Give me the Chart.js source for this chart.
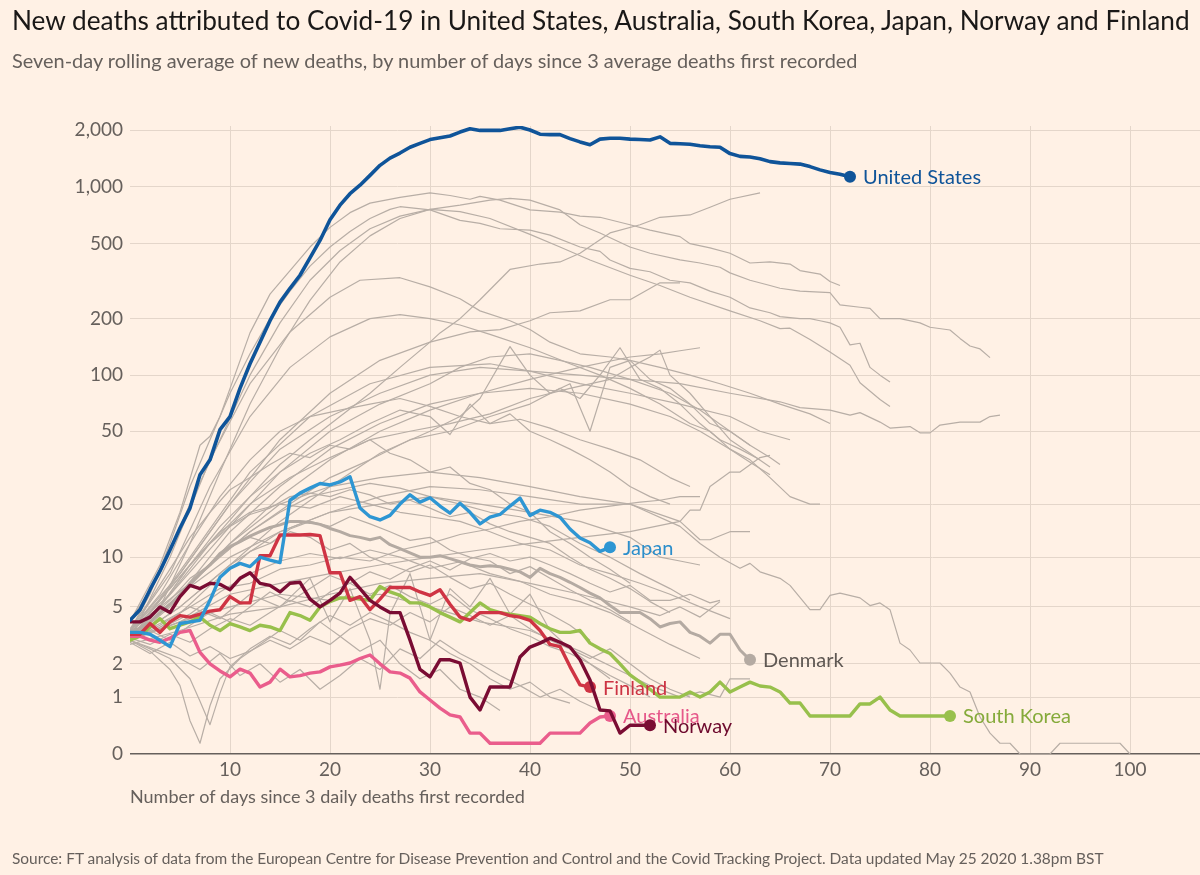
<!DOCTYPE html>
<html><head><meta charset="utf-8">
<script src="https://cdn.jsdelivr.net/npm/chart.js@4.4.0/dist/chart.umd.min.js"></script>
<style>
html,body{margin:0;padding:0;background:#fff1e5;}
#wrap{position:relative;width:1200px;height:875px;overflow:hidden;background:#fff1e5;}
canvas{position:absolute;left:0;top:0;}
.txt{position:absolute;left:12px;white-space:nowrap;font-family:Lato,"Open Sans",sans-serif;}
#title{top:4px;font-size:24px;color:#1a1817;line-height:32px;}
#subtitle{top:47px;font-size:18px;color:#66605c;line-height:26px;}
#source{top:847px;font-size:15px;color:#66605c;line-height:22px;}
</style></head>
<body><div id="wrap">
<canvas id="c" width="1200" height="875"></canvas>
<div class="txt" id="title" data-w="1178">New deaths attributed to Covid-19 in United States, Australia, South Korea, Japan, Norway and Finland</div>
<div class="txt" id="subtitle" data-w="846">Seven-day rolling average of new deaths, by number of days since 3 average deaths first recorded</div>
<div class="txt" id="source" data-w="1092">Source: FT analysis of data from the European Centre for Disease Prevention and Control and the Covid Tracking Project. Data updated May 25 2020 1.38pm BST</div>
</div>
<script>
// ---------- DATA ----------
const xTicks = [10,20,30,40,50,60,70,80,90,100];
const yTickValues = [0,1,2,5,10,20,50,100,200,500,1000,2000];
const yTickLabels = ['0','1','2','5','10','20','50','100','200','500','1,000','2,000'];

// highlighted series: value per day, starting at day 0
const usDeaths = [4.1,4.8,6.4,8.3,11,14.7,19,29,35,51,60,85,115,150,195,245,290,340,420,520,670,800,920,1020,1150,1300,1420,1510,1620,1700,1780,1820,1860,1950,2030,1990,1990,1990,2030,2070,2000,1900,1890,1890,1800,1730,1670,1790,1810,1810,1790,1780,1770,1840,1700,1690,1680,1650,1630,1620,1500,1450,1440,1410,1360,1340,1330,1320,1280,1230,1190,1165,1130];
const japanDeaths = [3.4,3.4,3.3,3.0,2.7,3.9,4.0,4.1,5.5,7.6,8.6,9.2,8.8,10.0,9.6,9.3,21,23,24.5,26,25.5,26.5,28.3,19,17,16.3,17.3,20,22.5,20.5,21.7,19.5,17.8,20.2,18,15.5,16.9,17.5,19.5,21.6,17.3,18.5,18,16.9,14.5,12.9,12.1,10.8,11.4];
const norwayDeaths = [4.0,4.0,4.3,5.0,4.6,5.8,6.8,6.5,7.0,6.9,6.4,7.5,8.1,7.0,6.8,6.2,7.0,7.1,5.6,5.0,5.5,6.1,7.6,6.5,5.5,5.0,4.6,4.6,3.0,1.8,1.56,2.15,2.15,2.03,1.0,0.71,1.26,1.26,1.26,2.26,2.68,2.86,3.1,2.9,2.68,2.15,1.46,0.71,0.69,0.29,0.42,0.42,0.42];
const finlandDeaths = [3.3,3.3,3.9,3.4,4.0,4.4,4.3,4.5,4.7,4.8,5.8,5.3,5.3,10.2,10.2,13.4,13.4,13.4,13.5,13.3,8.1,8.1,5.5,5.8,4.8,5.6,6.6,6.6,6.6,6.2,5.9,6.4,5.2,4.3,4.1,4.6,4.6,4.6,4.4,4.3,4.1,3.5,2.8,2.7,1.9,1.32,1.26];
const australiaDeaths = [3.2,3.2,3.0,2.9,3.1,3.4,3.5,2.45,2.0,1.75,1.56,1.81,1.68,1.26,1.4,1.81,1.56,1.6,1.68,1.72,1.89,1.95,2.03,2.2,2.34,2.0,1.72,1.68,1.52,1.13,0.93,0.75,0.61,0.57,0.29,0.29,0.14,0.14,0.14,0.14,0.14,0.14,0.29,0.29,0.29,0.29,0.46,0.57,0.59];
const southKoreaDeaths = [3.0,3.2,3.7,4.2,3.6,3.8,4.0,4.3,3.8,3.5,3.9,3.7,3.5,3.8,3.7,3.5,4.6,4.4,4.1,5.0,5.4,5.7,5.7,5.6,5.5,6.7,6.2,5.9,5.3,5.3,5.0,4.6,4.3,4.0,4.6,5.3,4.8,4.6,4.5,4.4,4.3,3.9,3.6,3.4,3.4,3.5,2.86,2.6,2.4,2.0,1.62,1.4,1.2,1.0,1.0,1.0,1.13,1.0,1.13,1.4,1.13,1.26,1.4,1.29,1.26,1.13,0.86,0.86,0.59,0.59,0.59,0.59,0.59,0.84,0.84,1.0,0.71,0.59,0.59,0.59,0.59,0.59,0.59];
const denmarkDeaths = [3.5,3.6,4.0,4.6,5.2,6.0,7.0,8.0,9.0,10.5,11.5,12.3,13.2,14.0,14.8,15.3,16.0,16.0,15.8,15.4,14.6,14.0,13.3,13.0,12.6,13.0,11.8,11.2,10.6,10.0,10.0,10.2,9.8,9.4,9.0,8.8,8.9,8.8,8.5,8.2,7.6,8.6,8.0,7.6,7.1,6.6,6.1,5.7,5.1,4.6,4.6,4.6,4.2,3.7,3.9,4.0,3.4,3.2,2.86,3.3,3.3,2.55,2.15];

// other countries: [day, value] pairs
const other01 = [[0,4],[3,9],[5,18],[7,42],[8,47],[9,60],[12,168],[14,270],[16,360],[18,480],[20,610],[22,730],[24,820],[27,880],[30,930],[32,900],[34,860],[35,890],[37,850],[40,755],[43,735],[45,700],[47,690],[50,630],[52,590],[55,545],[56,500],[58,475],[60,445],[62,395],[64,400],[66,390],[67,360],[69,345],[70,315],[71,300]];
const other02 = [[0,3.5],[2,6],[4,12],[6,25],[8,45],[10,80],[12,130],[14,200],[16,280],[18,380],[20,480],[22,580],[24,680],[26,760],[27,785],[30,755],[33,665],[35,640],[37,600],[40,590],[42,555],[45,480],[47,455],[48,410],[50,370],[52,355],[54,320],[56,310],[58,280],[60,260],[62,228],[64,215],[65,205],[67,200],[68,200],[69,195],[70,190],[71,180],[72,145],[73,148],[74,110],[75,100],[76,92]];
const other03 = [[0,3],[3,5],[6,12],[9,30],[12,70],[15,140],[18,250],[21,400],[24,550],[27,680],[30,760],[33,800],[36,850],[38,870],[40,850],[43,755],[45,630],[47,570],[50,480],[52,445],[55,410],[57,395],[59,375],[60,350],[62,320],[64,300],[65,290],[67,280],[69,277],[70,275],[71,237],[73,230],[74,227],[75,200],[77,200],[79,190],[80,180],[82,174],[83,157],[84,143],[85,138],[86,124]];
const other04 = [[0,3.5],[3,5],[6,9],[9,14],[12,22],[15,33],[18,45],[21,60],[24,80],[27,110],[30,150],[31,168],[33,200],[35,252],[38,365],[41,390],[43,400],[45,445],[48,570],[51,630],[53,690],[56,710],[58,780],[60,860],[63,930]];
const other05 = [[0,4],[3,8],[6,20],[9,45],[12,100],[15,190],[18,320],[21,460],[24,600],[27,700],[30,760],[33,740],[36,680],[40,560],[43,480],[46,410],[50,340],[53,300],[56,260],[60,220],[63,195],[65,177],[66,178],[68,155],[70,133],[72,113],[73,91],[75,74],[76,68]];
const other06 = [[0,3],[4,10],[8,35],[12,90],[16,170],[20,260],[23,320],[27,330],[30,295],[33,255],[35,220],[38,195],[40,175],[42,150],[45,130],[48,125],[50,120],[53,110],[56,100],[59,90],[62,80],[65,70],[68,62],[70,55]];
const other07 = [[0,3.5],[5,8],[10,20],[15,45],[20,80],[25,120],[30,150],[34,170],[37,175],[40,195],[42,215],[45,220],[48,252],[50,252],[53,310],[55,310]];
const other08 = [[0,3],[5,8],[10,20],[15,40],[20,60],[25,80],[30,100],[35,110],[40,105],[45,100],[50,95],[55,90],[60,80],[65,72],[67,67],[70,65],[72,61],[73,63],[75,56],[76,52],[78,53],[79,49],[80,49],[81,54],[83,56],[85,56],[86,60],[87,61]];
const other09 = [[0,3],[6,10],[12,30],[18,60],[24,90],[30,110],[36,115],[40,105],[45,90],[50,80],[55,70],[60,60],[63,50],[66,45]];
const other10 = [[0,3.5],[4,8],[8,25],[12,60],[16,110],[20,160],[24,200],[27,210],[30,200],[33,185],[36,165],[40,140],[44,115],[47,100],[50,85],[53,70],[56,55],[58,50],[60,40],[62,35],[64,28],[66,22],[68,20],[69,20]];
const other11 = [[0,3],[5,7],[10,15],[15,30],[20,50],[25,70],[30,90],[33,110],[36,125],[40,130],[43,120],[46,110],[50,95],[54,80],[57,65],[60,50],[62,42],[64,36],[65,33]];
const other12 = [[0,3],[5,4],[10,6],[15,7],[20,8],[25,9],[30,10],[35,11],[40,12],[45,13],[50,14],[55,16],[56,18.5],[57,18.5],[58,25],[60,30],[61,30],[63,36],[64,37]];
const other13 = [[0,3],[5,6],[10,12],[15,20],[20,25],[25,28],[30,30],[35,28],[40,25],[45,22],[50,20],[55,16],[57,12.6],[58,12.6],[60,14],[62,14]];
const other14 = [[0,3],[5,5],[10,9],[15,14],[20,18],[25,20],[30,22],[35,20],[40,18],[45,16],[50,13],[53,10],[55,9.5],[57,9]];
const other15 = [[0,3],[5,6],[10,10],[15,14],[20,18],[25,22],[30,25],[35,24],[40,22],[45,20],[50,20],[55,15],[57,12],[59,10],[61,8.6],[62,9.2],[63,8.2],[65,7.5],[66,6.8],[68,4.8],[69,4.8],[70,5.9],[71,6.1],[73,5.7],[74,5.1],[75,5.3],[76,4.8],[77,2.86],[78,2.55],[79,2.03],[81,2.03],[82,1.68],[83,1.26],[84,1.13],[85,0.57],[86,0.29],[87,0.14],[88,0.14],[89,0],[92,0],[93,0.14],[99,0.14],[100,0]];
const other16 = [[0,3],[5,6],[10,14],[15,25],[20,40],[25,55],[30,70],[35,80],[40,85],[45,80],[50,70],[54,60],[57,50],[60,40],[62,34],[64,29]];
const other17 = [[0,3],[5,4],[10,5],[15,6],[20,5.5],[25,6],[30,5],[35,4],[40,3.5],[45,2.5],[50,1.6],[52,1.3],[55,1.0],[57,1.13],[59,1.0],[60,1.5],[62,1.5]];
const other18 = [[0,2.8],[5,3.5],[10,4.5],[15,5],[20,6],[25,7],[30,7.5],[35,8],[40,7],[45,6],[50,5],[53,4.4],[55,5.0],[57,4.3],[59,5.4]];
const other19 = [[0,3],[2,2.5],[4,1.8],[5,1.3],[6,0.5],[7,0.14],[8,0.8],[9,1.5],[11,2.2],[13,2.8],[15,3.5],[17,3.0],[19,4.0],[21,3.2],[23,2.5],[25,3.0],[27,2.0],[29,1.5],[31,1.8],[33,1.2],[35,1.0],[37,0.7]];
const other20 = [[0,3],[2,2.6],[4,2.2],[6,1.5],[7,0.9],[8,0.43],[9,1.1],[10,1.9],[12,2.6],[14,3.2],[16,2.8],[18,3.6],[20,4.4],[22,3.8],[24,4.6],[26,4.0],[28,3.4],[30,3.0],[32,2.4],[34,2.0],[36,1.5],[38,1.2],[40,1.4],[42,1.0],[44,0.86]];
const other21 = [[0,3.2],[3,3.6],[6,4.5],[9,6.2],[12,8.0],[15,9.5],[18,10.5],[21,9.8],[24,11.0],[27,10.0],[30,8.6],[33,9.4],[36,8.0],[39,7.2],[42,6.0],[45,5.4],[48,4.6],[51,3.6],[54,2.8],[57,2.2]];
const other22 = [[0,3.0],[2,3.4],[4,4.0],[6,5.2],[8,6.8],[10,8.5],[12,10.8],[14,12.0],[16,14.5],[18,16.0],[20,15.0],[22,17.0],[24,15.5],[26,14.0],[28,12.5],[30,13.0],[32,11.0],[34,10.0],[36,9.5],[38,8.0],[40,8.8],[42,7.5],[44,6.4],[46,5.5],[48,4.8],[50,4.0]];
const other23 = [[0,3.1],[2,2.8],[4,3.3],[6,2.9],[8,3.6],[10,4.2],[12,3.8],[14,4.6],[16,5.5],[18,5.0],[20,6.2],[22,7.0],[24,6.0],[26,6.8],[28,5.8],[30,5.2],[32,6.0],[34,4.8],[36,4.2],[38,3.6],[40,3.2],[42,2.7],[44,2.4],[46,2.0],[48,1.6],[50,1.3],[52,1.0]];
const other24 = [[0,3],[3,2.5],[5,2.2],[7,1.8],[9,2.4],[11,1.6],[13,2.0],[15,1.4],[17,1.8],[19,1.2],[21,1.6],[23,2.2],[25,1.8],[27,2.6],[29,2.2],[31,3.0],[33,2.4],[35,2.0],[37,1.6],[39,1.3],[41,1.0],[43,1.2],[45,0.9],[47,0.7]];
const other25 = [[0,3.3],[2,4.2],[4,5.5],[6,7.5],[8,9.0],[10,11.5],[12,13.0],[14,12.0],[16,14.0],[18,13.0],[20,11.0],[22,12.0],[24,10.0],[26,9.0],[28,8.2],[30,9.0],[32,7.6],[34,6.5],[36,7.0],[38,6.0],[40,5.2],[42,4.5],[44,3.8],[46,3.0]];
const other26 = [[0,3],[3,3.8],[6,5.0],[9,4.2],[12,6.0],[15,5.0],[18,7.5],[20,4.0],[22,6.5],[24,3.0],[25,1.2],[26,4.5],[28,8.0],[30,3.0],[32,6.5],[34,5.0],[36,7.5],[38,4.5],[40,6.0],[42,3.5],[44,2.6],[46,2.0],[48,1.5]];
const other27 = [[0,3.4],[3,5.0],[6,7.0],[9,10.0],[12,14.0],[15,18.0],[18,22.0],[21,24.0],[24,26.0],[27,24.5],[30,22.0],[33,20.0],[36,18.0],[39,17.0],[42,15.0],[45,12.0],[48,10.0],[51,8.0],[54,6.5],[56,5.5]];
const other28 = [[0,2.9],[2,2.4],[4,2.9],[6,2.3],[8,2.7],[10,2.2],[12,2.5],[14,3.0],[16,2.6],[18,3.2],[20,2.8],[22,3.6],[24,4.2],[26,3.8],[28,4.6],[30,4.0],[32,5.0],[34,4.4],[36,3.8],[38,4.4],[40,3.6],[42,3.0],[44,2.6],[46,2.2],[48,2.6],[50,2.0],[52,1.5],[54,1.2],[56,1.0]];
const other29 = [[0,3.5],[2,4.8],[4,6.5],[6,9.0],[8,12.0],[10,15.0],[12,17.5],[14,19.0],[16,22.0],[18,23.0],[20,22.0],[22,24.0],[24,22.5],[26,20.0],[28,21.0],[30,19.0],[32,17.0],[34,18.0],[36,15.5],[38,14.0],[40,13.0],[42,12.0],[44,10.0],[46,8.5],[48,7.5],[50,6.5],[52,5.4],[54,4.6]];
const other30 = [[0,3],[2,3.5],[4,3.0],[6,3.8],[8,4.6],[10,4.0],[12,5.0],[14,6.2],[16,5.4],[18,6.5],[20,7.8],[22,7.0],[24,8.2],[26,7.4],[28,8.6],[30,9.5],[32,8.4],[34,9.8],[36,10.5],[38,9.5],[40,10.0],[42,9.0],[44,8.0],[46,7.0],[48,6.2],[50,6.8],[52,5.5],[54,5.5],[56,6.0],[58,5.3],[59,5.5]];
const other31 = [[0,3.1],[3,3.9],[6,5.0],[9,6.5],[12,7.0],[15,8.5],[18,9.0],[21,10.0],[24,9.5],[27,11.0],[30,12.0],[33,13.5],[36,14.5],[39,16.0],[42,17.0],[45,18.5],[48,19.5],[51,20.5],[53,21.0],[55,22.0],[57,22.0]];
const other32 = [[0,3.5],[3,6],[6,12],[9,22],[12,35],[15,50],[18,60],[21,65],[24,70],[27,75],[30,68],[33,60],[36,55],[39,58],[42,52],[45,45],[48,40],[51,35],[54,28],[56,25]];
const other33 = [[0,3.2],[3,5],[6,9],[9,15],[12,22],[15,30],[18,38],[21,45],[24,55],[27,65],[30,60],[32,48],[34,70],[36,55],[38,62],[40,50],[42,45],[44,40],[46,35],[48,30],[50,25],[52,22],[54,20]];
const other34 = [[0,3],[4,5],[8,9],[12,14],[16,20],[20,28],[24,35],[28,45],[32,50],[36,60],[40,70],[43,85],[45,75],[47,100],[49,140],[51,95],[53,85],[55,70],[57,55],[59,45],[61,40],[63,35]];
const other35 = [[0,3.5],[4,6],[8,12],[12,20],[16,28],[20,36],[24,45],[28,50],[32,55],[36,62],[40,75],[44,85],[48,95],[50,110],[52,125],[53,136],[54,100],[56,80],[58,60],[60,45],[62,38],[64,32]];
const other36 = [[0,3],[5,6],[10,12],[15,22],[20,35],[25,50],[30,65],[35,80],[40,95],[45,110],[50,125],[53,130],[55,135],[57,140]];
const other37 = [[0,3],[5,5],[10,9],[15,16],[20,25],[25,38],[30,50],[33,60],[35,75],[38,142],[40,100],[42,80],[44,90],[46,50],[48,110],[50,120],[52,95],[54,85],[56,70],[58,55],[60,50],[62,42]];
const other38 = [[0,3.6],[2,5.5],[4,8.5],[6,13],[8,18],[10,24],[12,28],[14,33],[16,38],[18,36],[20,42],[22,40],[24,45],[26,38],[28,35],[30,30],[32,32],[34,26],[36,24],[38,20],[40,18],[42,14],[44,12],[46,10],[48,8.5],[50,7]];
const other39 = [[0,3.3],[3,5.5],[6,9],[9,14],[12,18],[15,20],[18,19],[21,22],[24,20],[27,18],[30,17],[33,16],[36,14],[39,12],[42,11],[45,9],[48,8],[51,7],[54,6],[57,5],[60,4.2]];
const otherCountries = [other01,other02,other03,other04,other05,other06,other07,other08,other09,other10,other11,other12,other13,other14,other15,other16,other17,other18,other19,other20,other21,other22,other23,other24,other25,other26,other27,other28,other29,other30,other31,other32,other33,other34,other35,other36,other37,other38,other39];

// ---------- TEXT FIT ----------
document.querySelectorAll('[data-w]').forEach(el=>{
  const target=+el.dataset.w; const w=el.getBoundingClientRect().width;
  const fs=parseFloat(getComputedStyle(el).fontSize);
  if(w>0) el.style.fontSize=(fs*target/w).toFixed(2)+'px';
});

// ---------- CHART ----------
const T = v => Math.log10(1 + v);
const dayPts = arr => arr.map((v,i)=>({x:i,y:T(v)}));
const pairPts = arr => arr.map(([d,v])=>({x:d,y:T(v)}));

const highlights = [
  {name:'United States', values:usDeaths, color:'#0f5499', text:'#0f5499', width:3.6},
  {name:'Japan', values:japanDeaths, color:'#2e96d3', text:'#2b8ecb', width:3.4},
  {name:'Norway', values:norwayDeaths, color:'#7a0c33', text:'#6e0a2e', width:3.4},
  {name:'Finland', values:finlandDeaths, color:'#cf3444', text:'#cc3343', width:3.4},
  {name:'Australia', values:australiaDeaths, color:'#ea5d8c', text:'#e6588a', width:3.4},
  {name:'South Korea', values:southKoreaDeaths, color:'#98c04c', text:'#85aa3a', width:3.4},
  {name:'Denmark', values:denmarkDeaths, color:'#b4aaa2', text:'#5f5853', width:3.0}
];

const datasets = highlights.map(h=>({
  data: dayPts(h.values), borderColor:h.color, borderWidth:h.width,
  pointRadius:0, tension:0, fill:false, borderJoinStyle:'round', borderCapStyle:'round',
  endLabel:h.name, labelColor:h.text
}));
otherCountries.forEach(arr=>datasets.push({
  data: pairPts(arr), borderColor:'#b8aea6', borderWidth:1.2,
  pointRadius:0, tension:0, fill:false, borderJoinStyle:'round'
}));

const endLabels = {
  id:'endLabels',
  afterDatasetDraw(chart, args){
    const ds = chart.data.datasets[args.index];
    if(!ds.endLabel) return;
    const pts = args.meta.data; const p = pts[pts.length-1];
    const ctx = chart.ctx; ctx.save();
    ctx.fillStyle = ds.borderColor;
    ctx.beginPath(); ctx.arc(p.x, p.y, 6, 0, Math.PI*2); ctx.fill();
    ctx.font = '20px Lato, "Open Sans", sans-serif';
    ctx.fillStyle = ds.labelColor; ctx.textBaseline = 'middle'; ctx.textAlign = 'left';
    ctx.fillText(ds.endLabel, p.x + 13, p.y + 1);
    ctx.restore();
  }
};

const gridCol = '#e4d6ca';
new Chart(document.getElementById('c'), {
  type:'line',
  data:{datasets},
  plugins:[endLabels],
  options:{
    responsive:false, animation:false, devicePixelRatio:1,
    layout:{padding:{top:126,left:0,right:0,bottom:0}},
    plugins:{legend:{display:false}, tooltip:{enabled:false}},
    scales:{
      x:{type:'linear', min:0, max:107,
        afterBuildTicks: s=>{ s.ticks = xTicks.map(v=>({value:v})); },
        ticks:{color:'#66605c', font:{family:'Lato', size:19}, padding:4, maxRotation:0, autoSkip:false, callback:v=>String(v)},
        grid:{color:gridCol, lineWidth:1, drawTicks:false},
        border:{display:false},
        title:{display:true, text:'Number of days since 3 daily deaths first recorded', align:'start',
          color:'#66605c', font:{family:'Lato', size:18}, padding:{top:0,bottom:67}},
        afterFit: s=>{ s.height = 121; }
      },
      y:{type:'linear', min:0, max:T(2100),
        afterBuildTicks: s=>{ s.ticks = yTickValues.map(v=>({value:T(v)})); },
        ticks:{color:'#66605c', font:{family:'Lato', size:19}, padding:7, autoSkip:false, callback:(v,i)=>yTickLabels[i]},
        grid:{color:c=>c.index===0?'#66605c':gridCol, lineWidth:c=>c.index===0?1.5:1, drawTicks:false},
        border:{display:false},
        afterFit: s=>{ s.width = 130; }
      }
    }
  }
});
</script>
</body></html>
